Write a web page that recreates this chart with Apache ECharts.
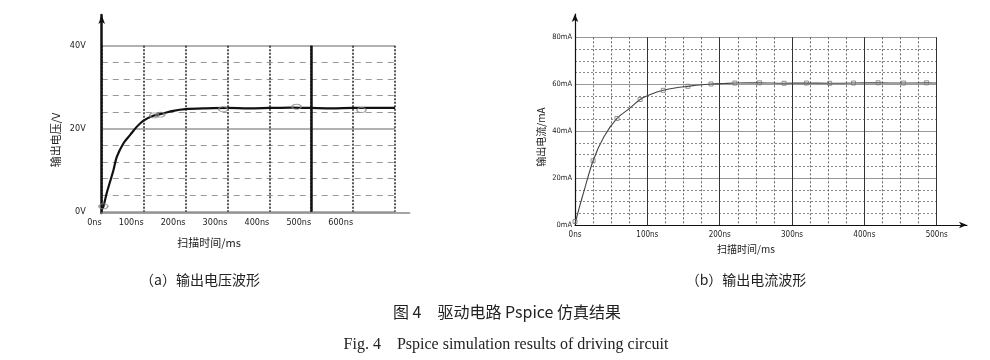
<!DOCTYPE html>
<html><head><meta charset="utf-8">
<script src="https://cdn.jsdelivr.net/npm/echarts@6/dist/echarts.min.js"></script>
<style>html,body{margin:0;padding:0;background:#fff}#c{width:990px;height:360px}</style>
</head><body><div id="c"></div>
<script>
// ---- data ----
// (a) output voltage: time in ns, voltage in V
const voltTime  = [0, 4, 12, 28, 36, 52, 68, 84, 99, 123, 147, 171, 200, 250, 300, 350, 400, 450, 500, 550, 600, 650, 700];
const voltValue = [0.5, 1.2, 4.5, 10, 13.2, 16.5, 18.5, 20.5, 21.9, 23.1, 23.7, 24.3, 24.7, 24.9, 25, 24.9, 25, 25.1, 25, 24.9, 25, 25, 25];
const voltMarkTime  = [4, 125, 140, 290, 465, 620];
const voltMarkValue = [1.3, 23.2, 23.4, 24.7, 25.3, 24.5];
const voltTicks = ['0ns', '100ns', '200ns', '300ns', '400ns', '500ns', '600ns'];

// (b) output current: time in ns, current in mA
const currTime  = [0, 6, 12, 25, 40, 58, 75, 90, 105, 122, 140, 156, 172, 188, 205, 222, 255, 288, 320, 352, 385, 419, 454, 486, 500];
const currValue = [0.5, 7.5, 14, 27.4, 37.6, 45.4, 49.6, 53.5, 55.7, 57.4, 58.5, 59.1, 59.7, 60.1, 60.3, 60.5, 60.6, 60.4, 60.5, 60.4, 60.5, 60.6, 60.5, 60.6, 60.5];
const currMarkTime  = [0, 25, 58, 90, 122, 156, 188, 221, 255, 289, 320, 352, 385, 419, 454, 486];
const currMarkValue = [1.5, 27.4, 45.4, 53.5, 57.4, 59.1, 60.1, 60.5, 60.6, 60.4, 60.5, 60.4, 60.5, 60.6, 60.5, 60.6];

const texts = {
  voltY: '输出电压/V', voltX: '扫描时间/ms',
  currY: '输出电流/mA', currX: '扫描时间/ms',
  capA: '（a）输出电压波形', capB: '（b）输出电流波形',
  figCn: '图 4　驱动电路 Pspice 仿真结果',
  figEn: 'Fig. 4    Pspice simulation results of driving circuit'
};

const zip = (a, b) => a.map((v, i) => [v, b[i]]);
const tickFont = '"DejaVu Sans Condensed", "Liberation Sans Narrow", "Liberation Sans", sans-serif';
const cjk = '"Noto Sans CJK SC", sans-serif';

const chart = echarts.init(document.getElementById('c'), null, {renderer: 'canvas'});
const hiddenAxis = (extra) => Object.assign({
  type: 'value', min: 0, max: 1, axisLabel: {show: false}, axisTick: {show: false},
  splitLine: {show: false}
}, extra);

chart.setOption({
  animation: false,
  backgroundColor: '#fff',
  grid: [
    {left: 101.7, top: 45.7, width: 293.3, height: 166},
    {left: 101.7, top: 15, width: 308, height: 198},
    {left: 575, top: 37.3, width: 361.7, height: 187.7},
    {left: 575, top: 14, width: 392, height: 211}
  ],
  xAxis: [
    {type: 'value', gridIndex: 0, min: 0, max: 700, interval: 100,
     axisLine: {show: false}, axisTick: {show: false},
     axisLabel: {color: '#222', fontSize: 9, fontFamily: tickFont, align: 'right', margin: 6,
       formatter: v => voltTicks[Math.round(v / 100)] || ''},
     splitLine: {show: true, lineStyle: {color: '#222', width: 1.5, type: [2, 1.5]}}},
    {type: 'value', gridIndex: 0, min: 0, max: 700, interval: 500, position: 'bottom',
     axisLine: {show: false}, axisTick: {show: false}, axisLabel: {show: false},
     splitLine: {show: true, showMinLine: false, showMaxLine: false, lineStyle: {color: '#111', width: 2.5}}},
    hiddenAxis({gridIndex: 1, axisLine: {show: true, onZero: false, lineStyle: {color: '#888', width: 1.5}}}),
    {type: 'value', gridIndex: 2, min: 0, max: 500, interval: 100,
     axisLine: {show: false}, axisTick: {show: false},
     axisLabel: {color: '#222', fontSize: 8, fontFamily: tickFont, margin: 6, formatter: v => v + 'ns'},
     splitLine: {show: true, lineStyle: {color: '#333', width: 1}},
     minorTick: {show: false, splitNumber: 4},
     minorSplitLine: {show: true, lineStyle: {color: '#666', width: 1, type: [2, 2]}}},
    hiddenAxis({gridIndex: 3, axisLine: {show: true, onZero: false, symbol: ['none', 'arrow'], symbolSize: [5, 8],
      lineStyle: {color: '#111', width: 1.2}}})
  ],
  yAxis: [
    {type: 'value', gridIndex: 0, min: 0, max: 40, interval: 20,
     axisLine: {show: false}, axisTick: {show: false},
     axisLabel: {color: '#222', fontSize: 9, fontFamily: tickFont, margin: 16, formatter: v => v + 'V'},
     splitLine: {show: true, lineStyle: {color: '#999', width: 1.5}},
     minorTick: {show: false, splitNumber: 5},
     minorSplitLine: {show: true, lineStyle: {color: '#999', width: 1.2, type: [6, 5]}}},
    hiddenAxis({gridIndex: 1, axisLine: {show: true, onZero: false, symbol: ['none', 'arrow'], symbolSize: [5, 9],
      lineStyle: {color: '#111', width: 2.5}}}),
    {type: 'value', gridIndex: 2, min: 0, max: 80, interval: 20,
     axisLine: {show: false}, axisTick: {show: false},
     axisLabel: {color: '#222', fontSize: 7.5, fontFamily: tickFont, margin: 3, formatter: v => v + 'mA'},
     splitLine: {show: true, lineStyle: {color: '#999', width: 1.2}},
     minorTick: {show: false, splitNumber: 4},
     minorSplitLine: {show: true, lineStyle: {color: '#888', width: 1, type: [2, 2]}}},
    hiddenAxis({gridIndex: 3, axisLine: {show: true, onZero: false, symbol: ['none', 'arrow'], symbolSize: [5, 8],
      lineStyle: {color: '#111', width: 1.2}}})
  ],
  series: [
    {type: 'line', xAxisIndex: 0, yAxisIndex: 0, data: zip(voltTime, voltValue), smooth: 0.3,
     showSymbol: false, lineStyle: {color: '#111', width: 2.2}, z: 5},
    {type: 'scatter', xAxisIndex: 0, yAxisIndex: 0, data: zip(voltMarkTime, voltMarkValue),
     symbol: 'circle', symbolSize: [9, 5], itemStyle: {color: 'rgba(0,0,0,0)', borderColor: '#888', borderWidth: 1.2}, z: 6},
    {type: 'line', xAxisIndex: 3, yAxisIndex: 2, data: zip(currTime, currValue), smooth: 0.3,
     showSymbol: false, lineStyle: {color: '#444', width: 1.1}, z: 5},
    {type: 'scatter', xAxisIndex: 3, yAxisIndex: 2, data: zip(currMarkTime, currMarkValue),
     symbol: 'rect', symbolSize: 4, itemStyle: {color: 'rgba(0,0,0,0)', borderColor: '#777', borderWidth: 1}, z: 6}
  ],
  graphic: [
    {type: 'text', x: 56, y: 140, rotation: Math.PI / 2,
     style: {text: texts.voltY, font: '11px ' + cjk, fill: '#222', align: 'center', verticalAlign: 'middle'}},
    {type: 'text', x: 209, y: 243,
     style: {text: texts.voltX, font: '11px ' + cjk, fill: '#222', align: 'center', verticalAlign: 'middle'}},
    {type: 'text', x: 541, y: 137, rotation: Math.PI / 2,
     style: {text: texts.currY, font: '10px ' + cjk, fill: '#222', align: 'center', verticalAlign: 'middle'}},
    {type: 'text', x: 746, y: 249,
     style: {text: texts.currX, font: '10px ' + cjk, fill: '#222', align: 'center', verticalAlign: 'middle'}},
    {type: 'text', x: 200, y: 280,
     style: {text: texts.capA, font: '14px ' + cjk, fill: '#222', align: 'center', verticalAlign: 'middle'}},
    {type: 'text', x: 746, y: 280,
     style: {text: texts.capB, font: '14px ' + cjk, fill: '#222', align: 'center', verticalAlign: 'middle'}},
    {type: 'text', x: 507, y: 312,
     style: {text: texts.figCn, font: '16px ' + cjk, fill: '#222', align: 'center', verticalAlign: 'middle'}},
    {type: 'text', x: 506, y: 345,
     style: {text: texts.figEn, font: '16px "Liberation Serif", serif', fill: '#222', align: 'center', verticalAlign: 'middle'}}
  ]
});
</script></body></html>
